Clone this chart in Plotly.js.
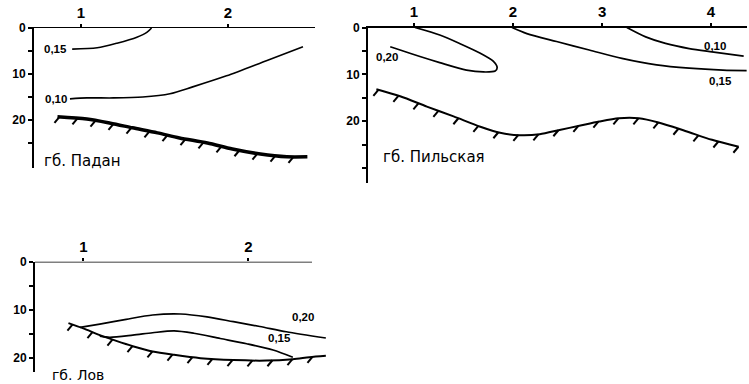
<!DOCTYPE html>
<html><head><meta charset="utf-8">
<script src="https://cdn.plot.ly/plotly-3.0.1.min.js"></script>
<style>body{margin:0;background:#fff}</style>
</head><body><div id="chart" style="width:749px;height:384px"></div>
<script>
// ---------- Panel 1: гб. Падан ----------
const padanStations = [1, 2];
const padanStationLabels = ['1', '2'];
const padanIso015X = [0.94, 1.11, 1.245, 1.38, 1.45, 1.48];
const padanIso015D = [4.6, 4.3, 3.3, 2.0, 0.9, 0];
const padanIso010X = [0.925, 1.04, 1.22, 1.42, 1.605, 1.76, 1.99, 2.27, 2.51];
const padanIso010D = [15.4, 15.2, 15.2, 15.0, 14.3, 12.8, 10.4, 7.0, 4.1];
const padanBottomX = [0.84, 1.04, 1.20, 1.35, 1.52, 1.67, 1.86, 2.03, 2.22, 2.40, 2.54];
const padanBottomD = [19.3, 19.8, 20.7, 21.7, 22.8, 23.9, 25.0, 26.3, 27.4, 28.0, 28.0];

// ---------- Panel 2: гб. Пильская ----------
const pilStations = [1, 2, 2.9, 4];
const pilStationLabels = ['1', '2', '3', '4'];
const pilIso020X = [1.01, 1.26, 1.46, 1.67, 1.80, 1.84, 1.82, 1.70, 1.53, 1.26, 1.06, 0.86, 0.76];
const pilIso020D = [0, 1.6, 3.4, 5.5, 7.2, 8.6, 9.3, 9.5, 9.1, 7.5, 6.2, 4.8, 4.1];
const pilIso015X = [1.99, 2.14, 2.44, 2.77, 3.10, 3.45, 3.78, 4.12, 4.36];
const pilIso015D = [0, 1.3, 3.0, 4.8, 6.6, 8.0, 8.7, 9.1, 9.2];
const pilIso010X = [3.15, 3.34, 3.54, 3.78, 4.01, 4.33];
const pilIso010D = [0, 2.0, 3.4, 4.5, 5.2, 6.1];
const pilBottomX = [0.62, 0.86, 1.13, 1.40, 1.67, 1.87, 2.07, 2.27, 2.47, 2.67, 2.87, 3.07, 3.27, 3.47, 3.74, 4.01, 4.28];
const pilBottomD = [13.2, 14.7, 16.9, 19.0, 21.2, 22.5, 23.0, 22.8, 21.9, 21.0, 20.1, 19.4, 19.4, 20.3, 22.1, 24.0, 25.5];

// ---------- Panel 3: гб. Лов ----------
const lovStations = [1, 2];
const lovStationLabels = ['1', '2'];
const lovIso020X = [0.98, 1.10, 1.26, 1.42, 1.59, 1.75, 1.91, 2.07, 2.23, 2.47];
const lovIso020D = [13.7, 13.0, 12.0, 11.1, 10.9, 11.5, 12.5, 13.5, 14.6, 15.9];
const lovIso015X = [1.10, 1.16, 1.30, 1.42, 1.55, 1.67, 1.83, 1.99, 2.15, 2.27];
const lovIso015D = [15.5, 15.75, 15.3, 14.8, 14.4, 14.9, 16.0, 17.1, 18.4, 19.9];
const lovBottomX = [0.91, 1.0, 1.10, 1.20, 1.30, 1.42, 1.55, 1.71, 1.91, 2.11, 2.27, 2.37, 2.47];
const lovBottomD = [12.8, 13.9, 15.3, 16.5, 17.6, 18.7, 19.4, 20.1, 20.5, 20.6, 20.3, 19.9, 19.6];

const W = 749, H = 384;
const FONT = 'Liberation Sans, Arial, sans-serif';
const TFONT = 'DejaVu Sans, sans-serif';

// panel geometry (pixels)
const P = [
  {p0: 81, ppx: 147, left: 34, right: 315, top: 28, ppy: 4.6, bottom: 168},
  {p0: 414, ppx: 99, left: 368, right: 747, top: 27.5, ppy: 4.68, bottom: 183},
  {p0: 83.3, ppx: 165, left: 35, right: 328, top: 261.7, ppy: 4.8, bottom: 372}
];

function interp(xs, ys, x) {
  for (let i = 0; i < xs.length - 1; i++) {
    if (x >= xs[i] && x <= xs[i + 1]) {
      const t = (x - xs[i]) / (xs[i + 1] - xs[i]);
      return ys[i] + t * (ys[i + 1] - ys[i]);
    }
  }
  return null;
}
// hatching ticks under the bottom line, derived from bottom arrays
function hatch(xs, ds, g, spacingPx, dxPx, dyPx, offsetPx) {
  const hx = [], hy = [];
  const step = spacingPx / g.ppx;
  for (let x = xs[0] + offsetPx / g.ppx; x <= xs[xs.length - 1]; x += step) {
    const d = interp(xs, ds, x);
    if (d === null) continue;
    hx.push(x, x - dxPx / g.ppx, null);
    hy.push(d, d + dyPx / g.ppy, null);
  }
  return {hx, hy};
}

function line(x, y, xa, ya, w) {
  return {x, y, xaxis: xa, yaxis: ya, mode: 'lines', type: 'scatter',
    line: {color: '#000', width: w, shape: 'spline', smoothing: 0.8}, hoverinfo: 'skip', showlegend: false};
}
function segs(h, xa, ya, w) {
  return {x: h.hx, y: h.hy, xaxis: xa, yaxis: ya, mode: 'lines', type: 'scatter',
    line: {color: '#000', width: w}, hoverinfo: 'skip', showlegend: false, connectgaps: false};
}

const h1 = hatch(padanBottomX, padanBottomD, P[0], 18, 5, 6, 2);
const h2 = hatch(pilBottomX, pilBottomD, P[1], 20, 5, 6, 2);
const h3 = hatch(lovBottomX, lovBottomD, P[2], 20, 5, 6, 4);

const data = [
  line(padanIso015X, padanIso015D, 'x', 'y', 1.6),
  line(padanIso010X, padanIso010D, 'x', 'y', 1.6),
  line(padanBottomX, padanBottomD, 'x', 'y', 3.5),
  segs(h1, 'x', 'y', 2),
  line(pilIso020X, pilIso020D, 'x2', 'y2', 1.7),
  line(pilIso015X, pilIso015D, 'x2', 'y2', 1.7),
  line(pilIso010X, pilIso010D, 'x2', 'y2', 1.7),
  line(pilBottomX, pilBottomD, 'x2', 'y2', 2),
  segs(h2, 'x2', 'y2', 2),
  line(lovIso020X, lovIso020D, 'x3', 'y3', 1.7),
  line(lovIso015X, lovIso015D, 'x3', 'y3', 1.7),
  line(lovBottomX, lovBottomD, 'x3', 'y3', 2),
  segs(h3, 'x3', 'y3', 2)
];

function xaxis(g, anchor, tv, tt, showline) {
  return {
    domain: [g.left / W, g.right / W],
    range: [1 + (g.left - g.p0) / g.ppx, 1 + (g.right - g.p0) / g.ppx],
    anchor, side: 'top', tickmode: 'array', tickvals: tv,
    ticktext: tt.map(t => '<b>' + t + '</b>'),
    ticks: 'outside', ticklen: 3, tickwidth: 2, tickcolor: '#000',
    showline, linecolor: '#000', linewidth: 1.5, showgrid: false, zeroline: false,
    tickfont: {family: FONT, size: 15, color: '#000'}, fixedrange: true
  };
}
function yaxis(g, anchor, tv, tt) {
  return {
    domain: [1 - g.bottom / H, 1 - g.top / H],
    range: [(g.bottom - g.top) / g.ppy, 0],
    anchor, tickmode: 'array', tickvals: tv,
    ticktext: tt.map(t => t ? '<b>' + t + '</b>' : ''),
    ticks: 'outside', ticklen: 4, tickwidth: 2, tickcolor: '#000',
    showline: true, linecolor: '#000', linewidth: 2, showgrid: false, zeroline: false,
    tickfont: {family: FONT, size: 12, color: '#000'}, fixedrange: true
  };
}

function ann(text, px, py, size, bold, xanchor, fam) {
  return {text: bold ? '<b>' + text + '</b>' : text, x: px / W, y: 1 - py / H,
    xref: 'paper', yref: 'paper', showarrow: false, xanchor: xanchor || 'center', yanchor: 'middle',
    font: {family: fam || FONT, size, color: '#000'}};
}

const g3 = P[2];
const layout = {
  width: W, height: H, autosize: false,
  margin: {l: 0, r: 0, t: 0, b: 0},
  paper_bgcolor: '#fff', plot_bgcolor: 'rgba(0,0,0,0)',
  showlegend: false,
  xaxis: xaxis(P[0], 'y', padanStations, padanStationLabels, true),
  yaxis: yaxis(P[0], 'x', [0, 5, 10, 15, 20, 25], ['0', '', '10', '', '20', '']),
  xaxis2: xaxis(P[1], 'y2', pilStations, pilStationLabels, true),
  yaxis2: yaxis(P[1], 'x2', [0, 5, 10, 15, 20, 25, 30], ['0', '', '10', '', '20', '', '']),
  xaxis3: xaxis(P[2], 'y3', lovStations, lovStationLabels, false),
  yaxis3: yaxis(P[2], 'x3', [0, 5, 10, 15, 20], ['0', '', '10', '', '20']),
  shapes: [
    {type: 'line', xref: 'x3', yref: 'y3', x0: 1 + (g3.left - g3.p0) / g3.ppx, x1: 1 + (312 - g3.p0) / g3.ppx,
     y0: 0, y1: 0, line: {color: '#000', width: 1.5}}
  ],
  annotations: [
    ann('0,15', 55, 49, 11.5, true),
    ann('0,10', 56, 99, 11.5, true),
    ann('гб. Падан', 42, 161, 15, false, 'left', TFONT),
    ann('0,20', 387, 57, 11.5, true),
    ann('0,10', 715, 46, 11.5, true),
    ann('0,15', 720, 81, 11.5, true),
    ann('гб. Пильская', 381, 157, 15, false, 'left', TFONT),
    ann('0,20', 303, 317, 11.5, true),
    ann('0,15', 279, 338, 11.5, true),
    {text: 'гб. Лов', x: 51 / W, y: 0, xref: 'paper', yref: 'paper', showarrow: false,
     xanchor: 'left', yanchor: 'bottom', yshift: 0, borderpad: 0,
     font: {family: TFONT, size: 14, color: '#000'}}
  ]
};

Plotly.newPlot('chart', data, layout, {staticPlot: true, displayModeBar: false});
</script>
</body></html>
